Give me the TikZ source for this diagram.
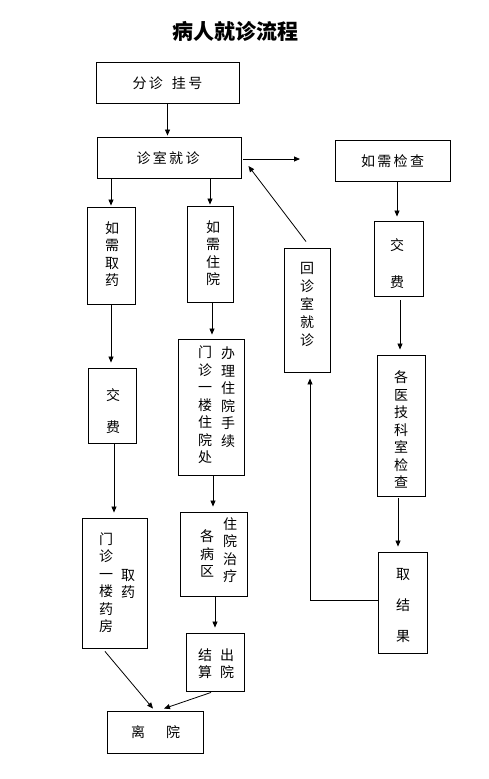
\documentclass[tikz,border=0pt]{standalone}
\usepackage{fontspec}
\newfontfamily\cjk{Noto Sans CJK SC}
\usetikzlibrary{arrows.meta,calc}
\newcommand\bxc[5]{\node[box, minimum width={(#4-#2)*1pt}, minimum height={(#5-#3)*1pt}] (#1) at ({(#2+#4)/2},{(#3+#5)/2}) {};}
\begin{document}
\begin{tikzpicture}[x=1pt,y=-1pt,
  box/.style={draw, line width=0.9pt, inner sep=0pt},
  txt/.style={inner sep=0pt, align=center, font=\cjk\fontsize{14}{17.5}\selectfont},
  arr/.style={-{Triangle[length=6pt,width=5pt]}, line width=0.8pt}]
\fill[white] (0,0) rectangle (488,779);
\useasboundingbox (0,0) rectangle (488,779);

\node[inner sep=0pt, font=\cjk\bfseries\fontsize{21}{21}\selectfont] (title) at (235,31) {病人就诊流程};

% boxes
\bxc{b1}{96}{62}{239}{103}
\bxc{b2}{97}{137}{241}{178}
\bxc{b3}{335}{140}{450}{181}
\bxc{b4}{87}{207}{135}{304}
\bxc{b5}{187}{206}{233}{302}
\bxc{b6}{88}{368}{136}{443}
\bxc{b7}{178}{339}{244}{475}
\bxc{b8}{82}{518}{147}{648}
\bxc{b9}{180}{512}{247}{596}
\bxc{b10}{186}{633}{244}{691}
\bxc{b11}{107}{711}{203}{753}
\bxc{b12}{284}{248}{330}{372}
\bxc{b13}{374}{221}{423}{296}
\bxc{b14}{377}{355}{425}{496}
\bxc{b15}{378}{552}{427}{653}

% texts
\node[txt] (t1) at (167.5,83) {分\,诊\hspace{9pt}挂\,号};
\node[txt] (t2) at (168,158) {诊\,室\,就\,诊};
\node[txt] (t3) at (392.5,161.5) {如\,需\,检\,查};
\node[txt] (t4) at (112,254) {如\\需\\取\\药};
\node[txt] (t5) at (213,253) {如\\需\\住\\院};
\node[txt] (t6) at (113,411) {交\\[15pt]费};
\node[txt, anchor=north] (t7a) at (205,346) {门\\诊\\一\\楼\\住\\院\\处};
\node[txt, anchor=north] (t7b) at (228,347) {办\\理\\住\\院\\手\\续};
\node[txt] (t8a) at (106,582.5) {门\\诊\\一\\楼\\药\\房};
\node[txt] (t8b) at (128,584) {取\\药};
\node[txt] (t9a) at (207,553.5) {各\\病\\区};
\node[txt] (t9b) at (230,550) {住\\院\\治\\疗};
\node[txt] (t10a) at (205,663.5) {结\\算};
\node[txt] (t10b) at (227,663.5) {出\\院};
\node[txt] (t11) at (155.5,732) {离\hspace{21pt}院};
\node[txt, font=\cjk\fontsize{14}{18}\selectfont] (t12) at (307,304) {回\\诊\\室\\就\\诊};
\node[txt] (t13) at (397,263.5) {交\\[19.5pt]费};
\node[txt] (t14) at (401,429.5) {各\\医\\技\\科\\室\\检\\查};
\node[txt] (t15) at (403,606) {取\\[13.5pt]结\\[13.5pt]果};

% connectors
\coordinate (c1) at (300,159);
\draw[arr, shorten >=1pt] (b1.south) -- (b1.south |- b2.north);
\draw[arr, shorten <=2pt] (b2.east |- c1) -- (c1);
\draw[arr, shorten >=1pt] (b4.north |- b2.south) -- (b4.north);
\draw[arr, shorten >=1pt] (b5.north |- b2.south) -- (b5.north);
\draw[arr, shorten >=5pt] (b4.south) -- (b4.south |- b6.north);
\draw[arr, shorten >=4pt] ([xshift=2pt]b5.south) -- ([xshift=2pt]b5.south |- b7.north);
\draw[arr, shorten >=5pt] ([xshift=2pt]b6.south) -- ([xshift=2pt]b6.south |- b8.north);
\draw[arr, shorten >=5pt] ([xshift=2pt]b7.south) -- ([xshift=2pt]b7.south |- b9.north);
\draw[arr, shorten >=5pt] ([xshift=1.5pt]b9.south) -- ([xshift=1.5pt]b9.south |- b10.north);
\draw[arr] ($(b8.south)+(-9.5,3)$) -- ($(b11.north)+(-2,-2)$);
\draw[arr] ($(b10.south)+(-4,1)$) -- ($(b11.north)+(9,-2)$);
\draw[arr, shorten >=4pt] ([xshift=-1.5pt]b13.north |- b3.south) -- ([xshift=-1.5pt]b13.north);
\draw[arr, shorten <=4pt, shorten >=5pt] ([xshift=-1pt]b14.north |- b13.south) -- ([xshift=-1pt]b14.north);
\draw[arr, shorten <=2pt, shorten >=5pt] ([xshift=-3pt]b14.south) -- ([xshift=-3pt]b14.south |- b15.north);
\draw[arr, shorten >=6pt] ([yshift=2.5pt]b15.west) -| ([xshift=3pt]b12.south);
\draw[arr] ($(b12.north)+(-1,-6)$) -- ($(b2.east)+(7,8.5)$);
\end{tikzpicture}
\end{document}
